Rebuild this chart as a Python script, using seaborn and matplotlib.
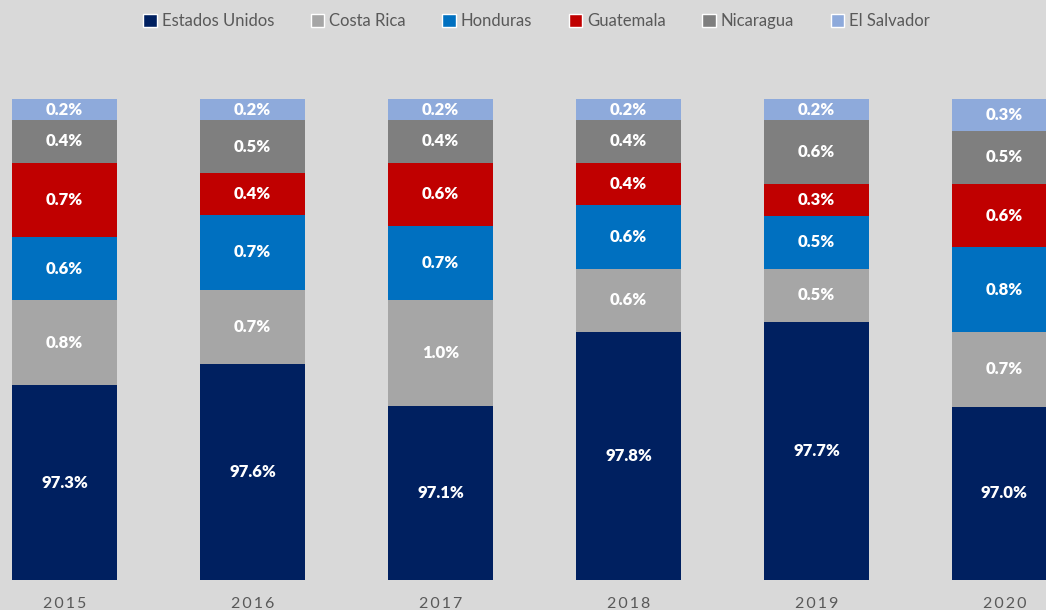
import numpy as np
import pandas as pd
import matplotlib
matplotlib.use("Agg")
import matplotlib.pyplot as plt
import seaborn as sns
from matplotlib.patches import Patch

# datos (% del total)
years = ["2015", "2016", "2017", "2018", "2019", "2020"]
estados_unidos = [97.3, 97.6, 97.1, 97.8, 97.7, 97.0]
costa_rica = [0.8, 0.7, 1.0, 0.6, 0.5, 0.7]
honduras = [0.6, 0.7, 0.7, 0.6, 0.5, 0.8]
guatemala = [0.7, 0.4, 0.6, 0.4, 0.3, 0.6]
nicaragua = [0.4, 0.5, 0.4, 0.4, 0.6, 0.5]
el_salvador = [0.2, 0.2, 0.2, 0.2, 0.2, 0.3]

series = ["Estados Unidos", "Costa Rica", "Honduras", "Guatemala", "Nicaragua", "El Salvador"]
colors = ["#002060", "#a6a6a6", "#0070c0", "#c00000", "#7f7f7f", "#8eaadb"]

df = pd.DataFrame({
    "year": years,
    "Estados Unidos": estados_unidos,
    "Costa Rica": costa_rica,
    "Honduras": honduras,
    "Guatemala": guatemala,
    "Nicaragua": nicaragua,
    "El Salvador": el_salvador,
})
# barras al 100%: normalizar cada año
shares = df[series].div(df[series].sum(axis=1), axis=0) * 100
cum = shares.cumsum(axis=1)

sns.set_style("white")
plt.rcParams["font.family"] = ["Lato", "DejaVu Sans"]
bg = "#d9d9d9"

fig = plt.figure(figsize=(10.46, 6.10), dpi=100, facecolor=bg)
ax = fig.add_axes([0, 30 / 610, 1, 481 / 610])
ax.set_facecolor(bg)

ymin = 95.46
# dibujar acumulados de arriba hacia abajo (apilado)
for name, col in reversed(list(zip(series, colors))):
    sns.barplot(x=df["year"], y=cum[name], color=col, width=0.56,
                saturation=1, ax=ax, edgecolor="none")

for i, yr in enumerate(years):
    for name in series:
        top = cum.loc[i, name]
        bottom = top - shares.loc[i, name]
        mid = (max(bottom, ymin) + top) / 2
        ax.text(i, mid, f"{df.loc[i, name]:.1f}%", ha="center", va="center",
                color="white", fontsize=12, fontweight="heavy")

ax.set_ylim(ymin, 100)
ax.set_xlim(-0.343, 5.221)
ax.set_yticks([])
ax.set_xlabel("")
ax.set_ylabel("")
ax.set_xticks(range(len(years)))
ax.set_xticklabels(["\u2009".join(y) for y in years])
ax.tick_params(axis="x", length=0, pad=12, labelsize=11.5, labelcolor="#595959")
sns.despine(ax=ax, left=True, bottom=True)

handles = [Patch(facecolor=c, label=s) for s, c in zip(series, colors)]
fig.legend(handles=handles, loc="center", bbox_to_anchor=(0.513, 0.965), ncol=6,
           frameon=False, fontsize=12, handlelength=0.8, handleheight=0.8,
           handletextpad=0.3, columnspacing=2.2, labelcolor="#595959")

fig.savefig("out.png", dpi=100, facecolor=bg)
